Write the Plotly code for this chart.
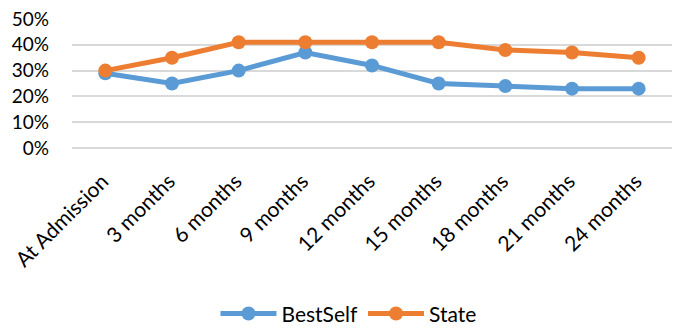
import plotly.graph_objects as go

categories = ["At Admission", "3 months", "6 months", "9 months", "12 months",
              "15 months", "18 months", "21 months", "24 months"]
bestself = [0.29, 0.25, 0.30, 0.37, 0.32, 0.25, 0.24, 0.23, 0.23]
state = [0.30, 0.35, 0.41, 0.41, 0.41, 0.41, 0.38, 0.37, 0.35]
y_ticks = [0, 0.1, 0.2, 0.3, 0.4, 0.5]

FONT = "Lato, 'Open Sans', sans-serif"

fig = go.Figure()
fig.add_trace(go.Scatter(
    x=categories, y=bestself, name="BestSelf", mode="lines+markers",
    line=dict(color="#5B9BD5", width=5), marker=dict(size=14, color="#5B9BD5"),
))
fig.add_trace(go.Scatter(
    x=categories, y=state, name="State", mode="lines+markers",
    line=dict(color="#ED7D31", width=5), marker=dict(size=14, color="#ED7D31"),
))

fig.update_layout(
    width=678, height=329,
    margin=dict(l=72, r=6, t=19, b=181, autoexpand=False),
    paper_bgcolor="white", plot_bgcolor="white",
    font=dict(family=FONT, size=21, color="#000000"),
    showlegend=True,
    legend=dict(orientation="h", xref="container", yref="container",
                x=0.514, xanchor="center", y=0.046, yanchor="middle",
                font=dict(size=21), itemwidth=56, traceorder="normal"),
    xaxis=dict(type="category", tickangle=-45, showgrid=False, showline=False,
               ticks="", tickfont=dict(size=21), ticklabelshift=-3,
               ticklabelstandoff=16, range=[-0.5, 8.5], automargin=False),
    yaxis=dict(range=[0, 0.5], tickvals=y_ticks, tickformat=".0%",
               showgrid=True, gridcolor="#D9D9D9", gridwidth=1.5,
               zeroline=True, zerolinecolor="#D9D9D9", zerolinewidth=1.5,
               ticks="", tickfont=dict(size=19), showline=False,
               ticklabelstandoff=22, automargin=False),
)

fig.write_html("out.html")
